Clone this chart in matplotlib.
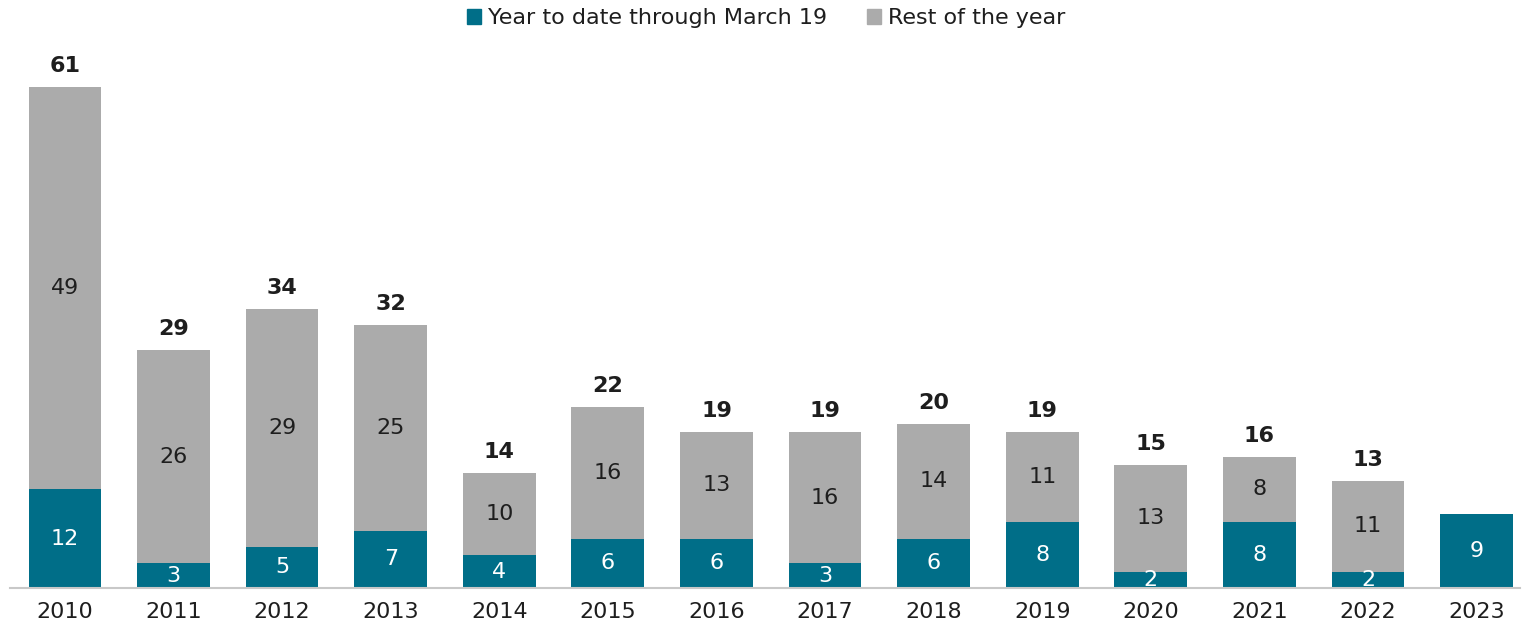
import matplotlib.pyplot as plt
from matplotlib.patches import Patch

years = ['2010', '2011', '2012', '2013', '2014', '2015', '2016',
         '2017', '2018', '2019', '2020', '2021', '2022', '2023']
ytd = [12, 3, 5, 7, 4, 6, 6, 3, 6, 8, 2, 8, 2, 9]
rest = [49, 26, 29, 25, 10, 16, 13, 16, 14, 11, 13, 8, 11, 0]
totals = [61, 29, 34, 32, 14, 22, 19, 19, 20, 19, 15, 16, 13, None]

teal = '#006E88'
gray = '#ABABAB'
ink = '#1E1E1E'
fs = 16

plt.rcParams['font.family'] = ['DejaVu Sans']

fig = plt.figure(figsize=(15.25, 6.27), dpi=100)
ax = fig.add_axes([10 / 1525, 39 / 627, 1510 / 1525, 548 / 627])

x = list(range(len(years)))
w = 0.67
ax.bar(x, ytd, width=w, color=teal)
ax.bar(x, rest, width=w, bottom=ytd, color=gray)

for i in x:
    ax.text(i, ytd[i] / 2, str(ytd[i]), ha='center', va='center',
            color='white', fontsize=fs)
    if rest[i]:
        ax.text(i, ytd[i] + rest[i] / 2, str(rest[i]), ha='center', va='center',
                color=ink, fontsize=fs)
    if totals[i] is not None:
        ax.annotate(str(totals[i]), (i, totals[i]), xytext=(0, 21),
                    textcoords='offset pixels', ha='center', va='center',
                    fontsize=fs, fontweight='bold', color=ink)

ax.set_xlim(-0.506, 13.4)
ax.set_ylim(0, 548 / 8.213)
ax.set_xticks(x)
ax.set_xticklabels(years, fontsize=fs, color=ink)
ax.tick_params(axis='x', length=0, pad=10)
ax.set_yticks([])
for s in ['top', 'right', 'left']:
    ax.spines[s].set_visible(False)
ax.spines['bottom'].set_color('#C8C8C8')
ax.spines['bottom'].set_linewidth(1.5)

handles = [Patch(color=teal, label='Year to date through March 19'),
           Patch(color=gray, label='Rest of the year')]
fig.legend(handles=handles, loc='center', bbox_to_anchor=(766 / 1525, 1 - 18 / 627),
           ncol=2, frameon=False, fontsize=fs, handlelength=0.65, handleheight=0.65,
           handletextpad=0.3, columnspacing=1.8, labelcolor=ink)

fig.savefig('out.png', dpi=100)
